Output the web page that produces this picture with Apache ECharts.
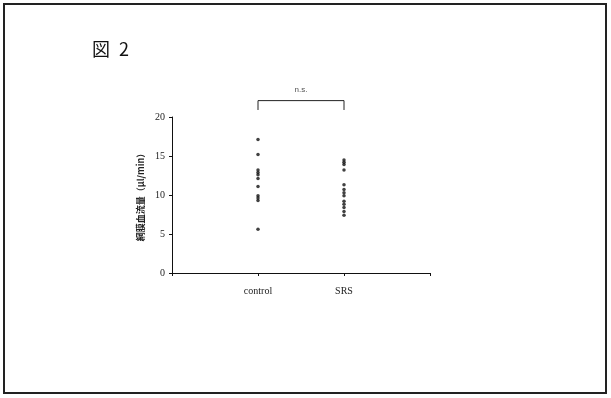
<!DOCTYPE html>
<html>
<head>
<meta charset="utf-8">
<script src="https://cdn.jsdelivr.net/npm/echarts@6/dist/echarts.min.js"></script>
<style>
    html, body { margin: 0; padding: 0; background: #fff; }
    #chart { width: 611px; height: 398px; }
</style>
</head>
<body>
<div id="chart"></div>
<script>
    // category positions on x axis
    var groups = ['control', 'SRS']
    var controlVals = [17.1, 15.2, 13.2, 12.9, 12.6, 12.1, 11.1, 9.9, 9.6, 9.3, 5.6]
    var srsVals = [14.5, 14.2, 13.9, 13.2, 11.3, 10.7, 10.3, 9.9, 9.2, 8.8, 8.4, 7.9, 7.4]
    var yTicks = [0, 5, 10, 15, 20]
    // significance bracket (x, y in data units)
    var bracket = [[1, 20.9], [1, 22.1], [2, 22.1], [2, 20.9]]

    var serif = '"Liberation Serif", "DejaVu Serif", serif'
    var cjk = '"Noto Sans CJK JP", sans-serif'

    var myChart = echarts.init(document.getElementById('chart'))

    var options = {
        animation: false,
        backgroundColor: '#fff',
        graphic: [
            {
                type: 'rect',
                shape: { x: 4, y: 4, width: 602, height: 389 },
                style: { fill: 'none', stroke: '#222', lineWidth: 2 }
            },
            {
                type: 'text',
                left: 92, top: 40,
                style: { text: '図\u20022', fontSize: 18, fontFamily: cjk, fill: '#111' }
            }
        ],
        grid: { left: 172, right: 181, top: 117, bottom: 125 },
        xAxis: {
            type: 'value',
            min: 0, max: 3, interval: 1,
            splitLine: { show: false },
            axisLine: { lineStyle: { color: '#111', width: 1 } },
            axisTick: { show: true, length: 3, lineStyle: { color: '#111' } },
            axisLabel: {
                margin: 13,
                fontFamily: serif, fontSize: 10, color: '#222',
                formatter: function (v) { return groups[v - 1] || '' }
            }
        },
        yAxis: {
            type: 'value',
            min: yTicks[0], max: yTicks[yTicks.length - 1], interval: 5,
            name: '網膜血流量（μl/min）',
            nameLocation: 'middle',
            nameRotate: 90,
            nameGap: 27,
            nameTextStyle: { fontFamily: cjk, fontSize: 9, fontWeight: 'bold', color: '#222' },
            splitLine: { show: false },
            axisLine: { show: true, lineStyle: { color: '#111', width: 1 } },
            axisTick: { show: true, length: 3, lineStyle: { color: '#111' } },
            axisLabel: { margin: 7, fontFamily: serif, fontSize: 10, color: '#222' }
        },
        series: [
            {
                type: 'scatter',
                symbolSize: 3.5,
                itemStyle: { color: '#111' },
                data: controlVals.map(function (v) { return [1, v] })
            },
            {
                type: 'scatter',
                symbolSize: 3.5,
                itemStyle: { color: '#111' },
                data: srsVals.map(function (v) { return [2, v] })
            },
            {
                type: 'line',
                clip: false,
                symbol: 'none',
                lineStyle: { color: '#222', width: 1 },
                data: bracket
            },
            {
                type: 'scatter',
                clip: false,
                symbolSize: 0,
                label: {
                    show: true, position: 'inside',
                    formatter: 'n.s.',
                    fontFamily: '"Liberation Sans", Arial, sans-serif', fontSize: 8, color: '#222'
                },
                data: [[1.5, 23.5]]
            }
        ]
    }

    myChart.setOption(options)
</script>
</body>
</html>
